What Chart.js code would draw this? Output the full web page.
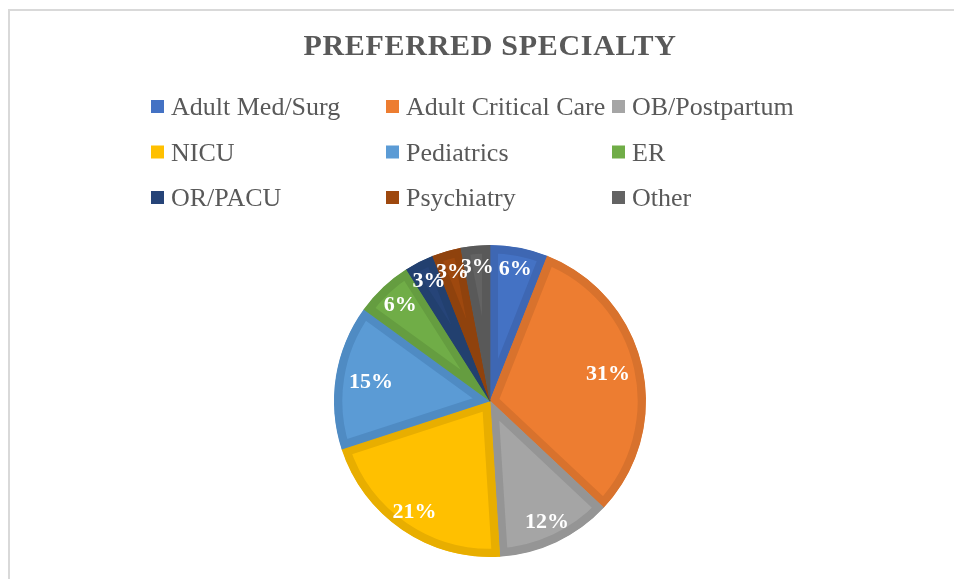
<!DOCTYPE html>
<html>
<head>
<meta charset="utf-8">
<title>Preferred Specialty</title>
<script src="https://cdn.jsdelivr.net/npm/chart.js@4.4.1/dist/chart.umd.min.js"></script>
<style>
  html, body { margin: 0; padding: 0; background: #fff; width: 954px; height: 579px; overflow: hidden; }
  #frame { position: absolute; left: 8px; top: 9px; width: 960px; height: 590px;
           border-top: 2px solid #d9d9d9; border-left: 2px solid #d9d9d9; }
  #myChart { position: absolute; left: 0; top: 0; }
</style>
</head>
<body>
<div id="frame"></div>
<canvas id="myChart" width="954" height="579"></canvas>
<script>
// data
let labels = ["Adult Med/Surg", "Adult Critical Care", "OB/Postpartum", "NICU", "Pediatrics", "ER", "OR/PACU", "Psychiatry", "Other"];
let percents = [6, 31, 12, 21, 15, 6, 3, 3, 3];

let fills = ['#4472c4', '#ed7d31', '#a5a5a5', '#ffc000', '#5b9bd5', '#70ad47', '#264478', '#9e480e', '#636363'];
let borders = ['#3e67b3', '#d8722d', '#959595', '#e8ae00', '#4f8bc3', '#659d40', '#22406f', '#8f420d', '#595959'];

let textGray = '#595959';

// excel style legend laid out as a 3 column grid
let colOffsets = [-339, -104, 122];
let legendGrid = {
    id: 'legendGrid',
    afterDraw(chart) {
        let ctx = chart.ctx;
        let cx = (chart.chartArea.left + chart.chartArea.right) / 2;
        ctx.save();
        ctx.font = '26px "Liberation Serif"';
        ctx.textBaseline = 'alphabetic';
        ctx.textAlign = 'left';
        labels.forEach((lab, i) => {
            let x = cx + colOffsets[i % 3];
            let y = 115 + Math.floor(i / 3) * 45.5;
            ctx.fillStyle = fills[i];
            ctx.fillRect(x, y - 15, 13, 13);
            ctx.fillStyle = textGray;
            ctx.fillText(lab, x + 20, y);
        });
        ctx.restore();
    }
};

// slightly spaced title letters (title box is drawn before the datasets)
let titleSpacing = {
    id: 'titleSpacing',
    beforeDraw(chart) { chart.ctx.letterSpacing = '0.7px'; },
    beforeDatasetsDraw(chart) { chart.ctx.letterSpacing = '0px'; }
};

// percentage labels, "inside end"
let pctLabels = {
    id: 'pctLabels',
    afterDatasetsDraw(chart) {
        let ctx = chart.ctx;
        let meta = chart.getDatasetMeta(0);
        ctx.save();
        ctx.font = 'bold 22px "Liberation Serif"';
        ctx.fillStyle = '#ffffff';
        ctx.textAlign = 'center';
        ctx.textBaseline = 'middle';
        meta.data.forEach((arc, i) => {
            let p = arc.getProps(['x', 'y', 'startAngle', 'endAngle', 'outerRadius'], true);
            let mid = (p.startAngle + p.endAngle) / 2;
            let h = Math.abs(Math.cos(mid));
            let r = p.outerRadius * (0.86 - 0.09 * Math.max(0, (h - 0.6) / 0.4));
            ctx.fillText(percents[i] + '%', p.x + Math.cos(mid) * r, p.y + Math.sin(mid) * r);
        });
        ctx.restore();
    }
};

let ctx = document.getElementById('myChart').getContext('2d');

let data = {
    labels: labels,
    datasets: [{
        label: "Preferred Specialty",
        data: percents,
        backgroundColor: fills,
        borderColor: borders,
        borderWidth: 8,
        borderAlign: 'inner',
        hoverOffset: 0
    }]
};

let myChart = new Chart(ctx, {
    type: 'pie',
    data: data,
    plugins: [titleSpacing, pctLabels, legendGrid],
    options: {
        responsive: false,
        animation: false,
        devicePixelRatio: 1,
        layout: {
            padding: { left: 26, right: 0, top: 0, bottom: 22 }
        },
        plugins: {
            legend: { display: false },
            tooltip: { enabled: false },
            title: {
                display: true,
                text: 'PREFERRED SPECIALTY',
                color: textGray,
                font: { family: '"Liberation Serif"', size: 30, weight: 'bold', lineHeight: 1.2 },
                padding: { top: 29, bottom: 180 }
            }
        }
    }
});
</script>
</body>
</html>
